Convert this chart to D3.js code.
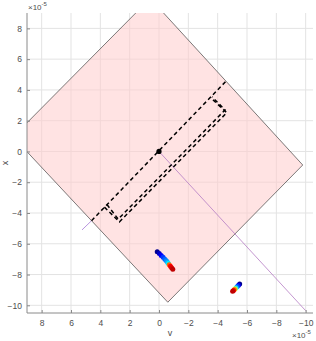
<!DOCTYPE html>
<html><head><meta charset="utf-8">
<script src="https://cdn.jsdelivr.net/npm/d3@7"></script>
<style>body{margin:0;background:#fff}svg{display:block}text{font-family:"Liberation Sans",Arial,sans-serif;fill:#4d4d4d}</style>
</head><body><svg id="c" width="316" height="341"></svg>
<script>
// data (units of 1e-5)
const vTicks = [8,6,4,2,0,-2,-4,-6,-8,-10];
const xTicks = [8,6,4,2,0,-2,-4,-6,-8,-10];
const vDomain = [9,-10.5];
const xDomain = [-10.5,9];
const diamond = [[0.6,9.95],[-9.8,-0.88],[-0.6,-9.8],[9.95,0.95]];
const axisLine = [[4.6,-4.5],[-4.55,4.55]];
const rect1 = [[3.72,-3.62],[2.70,-4.58],[-4.62,2.52],[-3.52,3.50]];
const rect2 = [[3.55,-3.45],[2.78,-4.40],[-4.50,2.70],[-3.62,3.55]];
const ray1 = [[0,0],[-10.0,-10.35]];
const ray2 = [[4.6,-4.5],[5.25,-5.1]];
const origin = [[0,0]];
const traj1 = [[0.12,-6.52,0.00],[-0.02,-6.64,0.06],[-0.15,-6.76,0.12],[-0.28,-6.88,0.18],[-0.40,-7.00,0.22],[-0.50,-7.10,0.26],[-0.58,-7.20,0.30],[-0.64,-7.28,0.36],[-0.70,-7.36,0.78],[-0.78,-7.46,0.88],[-0.86,-7.56,0.94],[-0.94,-7.66,1.00]];
const traj2 = [[-5.50,-8.62,0.00],[-5.42,-8.70,0.10],[-5.34,-8.78,0.20],[-5.26,-8.86,0.34],[-5.20,-8.92,0.55],[-5.14,-8.98,0.75],[-5.08,-9.03,0.90],[-5.02,-9.08,1.00]];

const svg = d3.select('#c');
const L=27,R=313,T=13,B=313;
const sx = d3.scaleLinear().domain(vDomain).range([L,R]);
const sy = d3.scaleLinear().domain(xDomain).range([B,T]);
const jet = d3.scaleLinear().domain([0,0.125,0.375,0.625,0.875,1]).range(['#00008f','#0000ff','#00ffff','#ffff00','#ff0000','#c00000']);

svg.append('clipPath').attr('id','clip').append('rect').attr('x',L).attr('y',T).attr('width',R-L).attr('height',B-T);

// grid
const g = svg.append('g');
g.selectAll('.gv').data(vTicks).join('line').attr('x1',d=>sx(d)).attr('x2',d=>sx(d)).attr('y1',T).attr('y2',B).attr('stroke','#e3e3e3').attr('stroke-width',1);
g.selectAll('.gx').data(xTicks).join('line').attr('y1',d=>sy(d)).attr('y2',d=>sy(d)).attr('x1',L).attr('x2',R).attr('stroke','#e3e3e3').attr('stroke-width',1);

const plot = svg.append('g').attr('clip-path','url(#clip)');
const line = d3.line().x(d=>sx(d[0])).y(d=>sy(d[1]));

plot.append('path').attr('d',line(diamond)+'Z').attr('fill','#ffcccc').attr('fill-opacity',0.55).attr('stroke','#444').attr('stroke-width',0.7);

plot.append('path').attr('d',line(ray1)).attr('stroke','#b57cc4').attr('stroke-width',0.8).attr('fill','none');
plot.append('path').attr('d',line(ray2)).attr('stroke','#a77ad6').attr('stroke-width',0.8).attr('fill','none');

const dash = {stroke:'#000','stroke-width':1.5,'stroke-dasharray':'4,3',fill:'none'};
function styl(p,o){for(const k in o)p.attr(k,o[k]);return p;}
styl(plot.append('path').attr('d',line(axisLine)),dash);
styl(plot.append('path').attr('d',line(rect1)),dash);
styl(plot.append('path').attr('d',line(rect2)),dash);

plot.selectAll('.o').data(origin).join('circle').attr('cx',d=>sx(d[0])).attr('cy',d=>sy(d[1])).attr('r',2.6).attr('fill','#000');

[traj1,traj2].forEach(tr=>{
  plot.append('g').selectAll('circle').data(tr).join('circle').attr('cx',d=>sx(d[0])).attr('cy',d=>sy(d[1])).attr('r',2.5).attr('fill',d=>jet(d[2]));
});

// axes
const ax = svg.append('g').attr('transform',`translate(0,${B})`).call(d3.axisBottom(sx).tickValues(vTicks).tickSizeInner(-3).tickSizeOuter(0).tickPadding(7));
const ay = svg.append('g').attr('transform',`translate(${L},0)`).call(d3.axisLeft(sy).tickValues(xTicks).tickSizeInner(-3).tickSizeOuter(0).tickPadding(5));
[ax,ay].forEach(a=>{a.selectAll('path,line').attr('stroke','#8a8a8a');a.selectAll('text').attr('font-size',8.5).attr('fill','#4d4d4d').attr('font-family','"Liberation Sans",Arial,sans-serif');});
ax.select('.domain').attr('d',`M${L},0H${R}`);
ay.select('.domain').attr('d',`M0,${T}V${B}`);

svg.append('text').attr('x',170).attr('y',336).attr('text-anchor','middle').attr('font-size',9).text('v');
svg.append('text').attr('transform','translate(8,163) rotate(-90)').attr('text-anchor','middle').attr('font-size',9).text('x');

function expo(x,y){const t=svg.append('text').attr('x',x).attr('y',y).attr('font-size',8);t.append('tspan').text('×10');t.append('tspan').attr('dy',-4).attr('font-size',6).text('-5');}
expo(28,10);
expo(292,338);
</script></body></html>
